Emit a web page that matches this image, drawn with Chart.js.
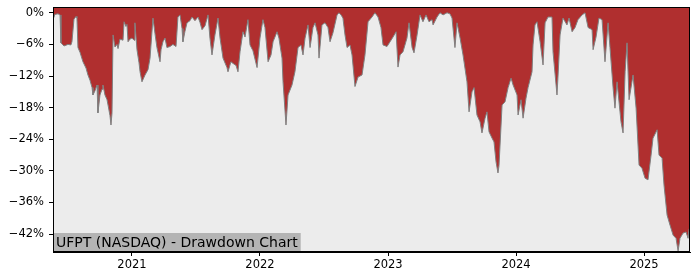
<!DOCTYPE html>
<html>
<head>
<meta charset="utf-8">
<script src="https://cdn.jsdelivr.net/npm/chart.js@4"></script>
<style>
  html, body { margin: 0; padding: 0; background: #ffffff; }
  #wrap { width: 700px; height: 280px; }
</style>
</head>
<body>
<div id="wrap"><canvas id="myChart" width="700" height="280"></canvas></div>
<script>
// time as decimal years, drawdown in percent
const years = [
  2020.383, 2020.398, 2020.422, 2020.438, 2020.445, 2020.469, 2020.500, 2020.523, 2020.531, 2020.547,
  2020.563, 2020.570, 2020.578, 2020.594, 2020.617, 2020.641, 2020.656, 2020.672, 2020.688, 2020.695,
  2020.711, 2020.727, 2020.734, 2020.750, 2020.766, 2020.773, 2020.789, 2020.805, 2020.813, 2020.828,
  2020.836, 2020.844, 2020.852, 2020.867, 2020.883, 2020.891, 2020.906, 2020.930, 2020.938, 2020.953,
  2020.961, 2020.969, 2020.984, 2021.000, 2021.016, 2021.023, 2021.039, 2021.055, 2021.063, 2021.078,
  2021.102, 2021.125, 2021.141, 2021.164, 2021.180, 2021.195, 2021.219, 2021.227, 2021.242, 2021.258,
  2021.273, 2021.297, 2021.320, 2021.344, 2021.359, 2021.375, 2021.391, 2021.398, 2021.414, 2021.430,
  2021.453, 2021.469, 2021.492, 2021.516, 2021.531, 2021.547, 2021.570, 2021.594, 2021.609, 2021.625,
  2021.648, 2021.672, 2021.688, 2021.711, 2021.742, 2021.750, 2021.773, 2021.789, 2021.813, 2021.828,
  2021.844, 2021.867, 2021.883, 2021.906, 2021.922, 2021.945, 2021.977, 2022.000, 2022.023, 2022.039,
  2022.063, 2022.086, 2022.102, 2022.133, 2022.148, 2022.172, 2022.180, 2022.203, 2022.219, 2022.250,
  2022.273, 2022.297, 2022.320, 2022.336, 2022.352, 2022.375, 2022.391, 2022.414, 2022.430, 2022.453,
  2022.461, 2022.484, 2022.508, 2022.531, 2022.547, 2022.570, 2022.602, 2022.617, 2022.633, 2022.648,
  2022.664, 2022.680, 2022.703, 2022.719, 2022.742, 2022.766, 2022.797, 2022.820, 2022.844, 2022.875,
  2022.898, 2022.922, 2022.945, 2022.961, 2022.992, 2023.016, 2023.039, 2023.063, 2023.078, 2023.094,
  2023.117, 2023.148, 2023.164, 2023.188, 2023.203, 2023.227, 2023.250, 2023.273, 2023.297, 2023.320,
  2023.344, 2023.352, 2023.383, 2023.406, 2023.430, 2023.461, 2023.484, 2023.500, 2023.523, 2023.539,
  2023.563, 2023.586, 2023.617, 2023.633, 2023.656, 2023.672, 2023.695, 2023.719, 2023.734, 2023.758,
  2023.773, 2023.789, 2023.813, 2023.828, 2023.844, 2023.859, 2023.867, 2023.891, 2023.914, 2023.938,
  2023.961, 2023.977, 2024.008, 2024.016, 2024.039, 2024.055, 2024.078, 2024.094, 2024.125, 2024.133,
  2024.148, 2024.164, 2024.188, 2024.211, 2024.227, 2024.250, 2024.281, 2024.289, 2024.320, 2024.328,
  2024.344, 2024.367, 2024.398, 2024.414, 2024.438, 2024.461, 2024.484, 2024.516, 2024.539, 2024.563,
  2024.594, 2024.602, 2024.625, 2024.648, 2024.672, 2024.695, 2024.719, 2024.734, 2024.758, 2024.773,
  2024.789, 2024.820, 2024.836, 2024.852, 2024.867, 2024.883, 2024.914, 2024.938, 2024.961, 2024.984,
  2025.008, 2025.031, 2025.055, 2025.070, 2025.102, 2025.117, 2025.141, 2025.156, 2025.180, 2025.203,
  2025.227, 2025.250, 2025.266, 2025.281, 2025.305, 2025.328, 2025.344, 2025.352
];
const drawdown = [
  -1.3, -0.3, -0.2, -0.4, -5.7, -6.3, -6.0, -6.1, -5.5, -1.2,
  -0.7, -1.0, -6.6, -7.5, -9.3, -10.5, -11.8, -12.8, -14.2, -15.6,
  -14.8, -13.7, -19.0, -15.6, -14.5, -13.7, -15.6, -16.5, -17.5, -19.5,
  -21.3, -19.0, -4.2, -6.5, -6.0, -6.8, -5.0, -5.2, -1.7, -2.6,
  -2.2, -5.5, -5.0, -4.8, -5.2, -1.9, -7.0, -9.5, -11.2, -13.1,
  -11.8, -10.8, -8.6, -1.0, -4.0, -6.6, -9.3, -7.0, -5.5, -4.8,
  -6.6, -6.4, -6.0, -6.4, -0.8, -0.4, -3.0, -5.5, -3.5, -1.9,
  -1.5, -0.8, -1.5, -0.8, -1.8, -3.2, -2.5, -0.4, -4.8, -8.0,
  -4.2, -1.0, -4.8, -8.6, -10.4, -11.2, -9.3, -9.6, -10.0, -11.2,
  -7.4, -3.6, -4.6, -1.3, -6.1, -7.2, -10.4, -4.8, -1.3, -2.8,
  -9.3, -8.0, -5.5, -3.6, -4.8, -8.6, -13.1, -21.3, -15.6, -13.7,
  -11.2, -6.6, -6.1, -8.0, -4.8, -2.3, -6.6, -2.8, -1.9, -4.2,
  -8.6, -2.3, -1.9, -2.8, -5.5, -3.8, -0.4, 0, -0.4, -1.0,
  -4.2, -6.6, -6.1, -8.0, -14.0, -12.2, -11.8, -8.0, -1.7, -0.8,
  0, -0.8, -2.8, -6.1, -6.4, -5.5, -4.6, -3.6, -10.3, -8.0,
  -7.4, -4.8, -1.9, -6.6, -7.6, -4.2, -0.4, -1.7, -0.4, -1.7,
  -1.3, -2.3, -0.8, 0, -0.4, 0, -0.2, -1.0, -6.6, -1.9,
  -4.8, -8.0, -13.1, -18.8, -15.0, -14.2, -19.4, -20.7, -22.8, -20.0,
  -18.8, -22.6, -23.8, -24.5, -28.3, -30.4, -29.0, -17.5, -16.9, -14.2,
  -12.4, -13.7, -15.6, -19.4, -16.5, -20.0, -16.2, -14.2, -11.2, -6.1,
  -2.3, -1.7, -5.5, -9.9, -1.9, -0.8, -0.8, -7.4, -15.6, -12.0,
  -4.2, -1.0, -2.3, -1.0, -3.6, -2.8, -1.3, -0.4, 0, -2.8,
  -3.2, -7.0, -4.6, -1.0, -1.3, -9.3, -1.9, -6.6, -14.2, -18.1,
  -13.1, -20.7, -22.8, -11.2, -5.7, -16.5, -11.8, -18.1, -28.9, -29.5,
  -31.4, -31.7, -27.0, -23.8, -22.2, -27.0, -27.6, -32.7, -38.4, -40.3,
  -42.2, -42.8, -45.2, -42.8, -41.8, -41.6, -42.8, -41.0
];
const xTicks = [2021, 2022, 2023, 2024, 2025];
const yTicks = [0, -6, -12, -18, -24, -30, -36, -42];
const chartTitle = 'UFPT (NASDAQ) - Drawdown Chart';

const fontFamily = '"DejaVu Sans", sans-serif';

const frame = {
    id: 'frame',
    beforeDraw: (chart) => {
        const {ctx, chartArea: {top, bottom, left, right}} = chart;
        ctx.save();
        ctx.fillStyle = '#ececec';
        ctx.fillRect(left, top, right - left, bottom - top);
        ctx.restore();
    },
    afterDraw: (chart) => {
        const {ctx, chartArea: {top, bottom, left, right}} = chart;
        ctx.save();
        // label box bottom-left
        ctx.font = '14px ' + fontFamily;
        const w = ctx.measureText(chartTitle).width;
        ctx.fillStyle = '#b4b4b4';
        ctx.fillRect(left, bottom - 19, w + 6, 19);
        ctx.fillStyle = '#000000';
        ctx.textBaseline = 'alphabetic';
        ctx.fillText(chartTitle, left + 3, bottom - 5);
        // box spines
        ctx.strokeStyle = '#000000';
        ctx.lineWidth = 1;
        ctx.strokeRect(left + 0.5, top + 0.5, right - left - 1, bottom - top - 1);
        ctx.restore();
    }
};

const points = years.map((y, i) => ({x: y, y: drawdown[i]}));

new Chart(document.getElementById('myChart').getContext('2d'), {
    type: 'line',
    data: {
        datasets: [{
            data: points,
            borderColor: '#808080',
            borderWidth: 1,
            backgroundColor: '#b02f2f',
            fill: 'end',
            pointRadius: 0,
            tension: 0
        }]
    },
    options: {
        responsive: false,
        animation: false,
        layout: {padding: {top: 7, right: 10, left: 0, bottom: 0}},
        plugins: {legend: {display: false}, tooltip: {enabled: false}},
        scales: {
            x: {
                type: 'linear',
                min: 2020.383,
                max: 2025.359,
                afterBuildTicks: (s) => { s.ticks = xTicks.map(v => ({value: v})); },
                afterFit: (s) => { s.height = 28; s.paddingLeft = 0; s.paddingRight = 0; },
                grid: {display: true, drawOnChartArea: false, drawTicks: true, tickLength: 4, color: '#000000'},
                border: {display: true, color: '#000000'},
                ticks: {
                    color: '#000000',
                    font: {family: fontFamily, size: 11.5},
                    padding: 2,
                    maxRotation: 0,
                    callback: (v) => String(v)
                }
            },
            y: {
                min: -45.4,
                max: 1.1,
                afterBuildTicks: (s) => { s.ticks = yTicks.map(v => ({value: v})); },
                afterFit: (s) => { s.width = 53; s.paddingTop = 0; s.paddingBottom = 0; },
                grid: {display: true, drawOnChartArea: false, drawTicks: true, tickLength: 4, color: '#000000'},
                border: {display: true, color: '#000000'},
                ticks: {
                    color: '#000000',
                    font: {family: fontFamily, size: 11.5},
                    padding: 5,
                    callback: (v) => v === 0 ? '0%' : '\u2212' + Math.abs(v) + '%'
                }
            }
        }
    },
    plugins: [frame]
});
</script>
</body>
</html>
